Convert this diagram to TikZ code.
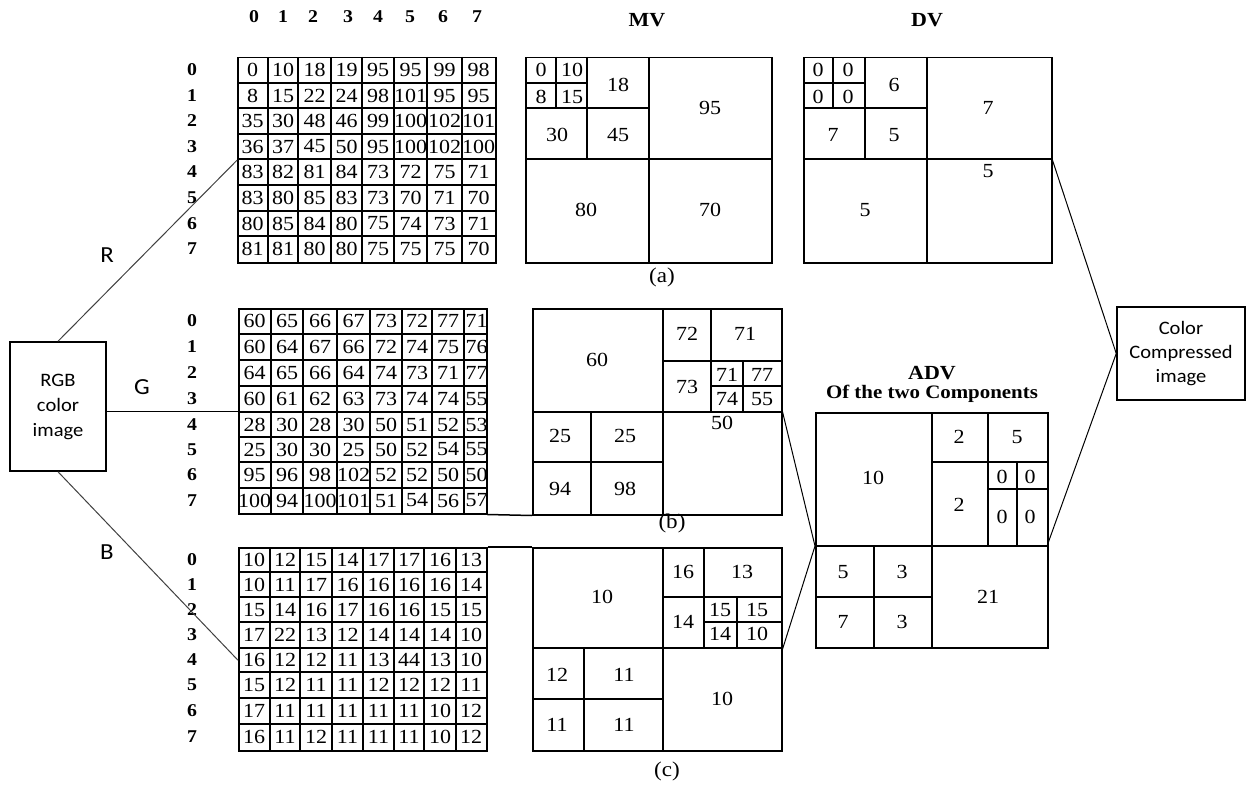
\documentclass[tikz,border=0pt]{standalone}
\usepackage{fontspec}
\setmainfont{Liberation Serif}[FakeStretch=1.1]
\newfontfamily\calfont{Carlito}[FakeStretch=1.08]
\begin{document}
\begin{tikzpicture}[x=1pt,y=-1pt]
\tikzset{
 grid/.style={line width=1.5pt},
 num/.style={font=\fontsize{20}{22}\selectfont, inner sep=0pt},
 lab/.style={font=\bfseries\fontsize{18}{20}\selectfont, inner sep=0pt},
 ttl/.style={font=\bfseries\fontsize{20}{22}\selectfont, inner sep=0pt},
 sub/.style={font=\fontsize{21}{23}\selectfont, inner sep=0pt},
 conn/.style={line width=1pt, draw=black!75},
 box/.style={draw, line width=1.5pt, rectangle, inner sep=0pt, anchor=north west},
 sans/.style={font=\calfont\fontsize{19}{25}\selectfont, align=center, inner sep=0pt},
 chan/.style={font=\calfont\fontsize{23}{25}\selectfont, inner sep=0pt},
}
\useasboundingbox (0,0) rectangle (1247,789);

% ---------------- R matrix ----------------
\node[box, minimum width=258pt, minimum height=205pt] (Rm) at (237,57) {};
\foreach \x in {268,298,331,362,394,427,462} \draw[grid] (\x,57) -- (\x,262);
\foreach \y in {83,108,134,159,185,211,236} \draw[grid] (237,\y) -- (495,\y);
\def\RX{{252.5,283,314.5,346.5,378,410.5,444.5,478.5}}
\def\RY{{70,95.5,121,146.5,172,198,223.5,249}}
\foreach \vals [count=\r from 0] in {{0,10,18,19,95,95,99,98},{8,15,22,24,98,101,95,95},{35,30,48,46,99,100,102,101},{36,37,45,50,95,100,102,100},{83,82,81,84,73,72,75,71},{83,80,85,83,73,70,71,70},{80,85,84,80,75,74,73,71},{81,81,80,80,75,75,75,70}} {
  \foreach \v [count=\c from 0] in \vals {
    \pgfmathsetmacro\xx{\RX[\c]}\pgfmathsetmacro\yy{\RY[\r]}
    \node[num] (R-\r-\c) at (\xx,\yy) {\v};
  }
}
\foreach \r in {0,...,7} {\pgfmathsetmacro\yy{\RY[\r]}\node[lab] (Rr-\r) at (192,\yy) {\r};}
\foreach \x [count=\c from 0] in {254,283,313,348,378,410,443,477} {\node[lab] (Rc-\c) at (\x,17) {\c};}

% ---------------- G matrix ----------------
\node[box, minimum width=248pt, minimum height=205pt] (Gm) at (238,308) {};
\foreach \x in {271,303,337,370,402,432,464} \draw[grid] (\x,308) -- (\x,513);
\foreach \y in {334,360,386,412,437,462,488} \draw[grid] (238,\y) -- (486,\y);
\def\GX{{254.5,287,320,353.5,386,417,448,476.5}}
\def\GY{{321,347,373,399,424.5,449.5,475,500.5}}
\begin{scope}
\clip (238,308) rectangle (486,513);
\foreach \vals [count=\r from 0] in {{60,65,66,67,73,72,77,71},{60,64,67,66,72,74,75,76},{64,65,66,64,74,73,71,77},{60,61,62,63,73,74,74,55},{28,30,28,30,50,51,52,53},{25,30,30,25,50,52,54,55},{95,96,98,102,52,52,50,50},{100,94,100,101,51,54,56,57}} {
  \foreach \v [count=\c from 0] in \vals {
    \pgfmathsetmacro\xx{\GX[\c]}\pgfmathsetmacro\yy{\GY[\r]}
    \node[num] (G-\r-\c) at (\xx,\yy) {\v};
  }
}
\end{scope}
\foreach \r in {0,...,7} {\pgfmathsetmacro\yy{\GY[\r]}\node[lab] (Gr-\r) at (192,\yy) {\r};}

% ---------------- B matrix ----------------
\node[box, minimum width=248pt, minimum height=203pt] (Bm) at (238,547) {};
\foreach \x in {270,300,332,363,394,424,456} \draw[grid] (\x,547) -- (\x,750);
\foreach \y in {572,597,622,648,672,698,724} \draw[grid] (238,\y) -- (486,\y);
\def\BX{{254,285,316,347.5,378.5,409,440,471}}
\def\BY{{559.5,584.5,609.5,635,660,685,711,737}}
\foreach \vals [count=\r from 0] in {{10,12,15,14,17,17,16,13},{10,11,17,16,16,16,16,14},{15,14,16,17,16,16,15,15},{17,22,13,12,14,14,14,10},{16,12,12,11,13,44,13,10},{15,12,11,11,12,12,12,11},{17,11,11,11,11,11,10,12},{16,11,12,11,11,11,10,12}} {
  \foreach \v [count=\c from 0] in \vals {
    \pgfmathsetmacro\xx{\BX[\c]}\pgfmathsetmacro\yy{\BY[\r]}
    \node[num] (B-\r-\c) at (\xx,\yy) {\v};
  }
}
\foreach \r in {0,...,7} {\pgfmathsetmacro\yy{\BY[\r]}\node[lab] (Br-\r) at (192,\yy) {\r};}

% ---------------- MV ----------------
\node[box, minimum width=246pt, minimum height=205pt] (mv) at (525,57) {};
\draw[grid] (649,57) -- (649,262);
\draw[grid] (525,159) -- (771,159);
\draw[grid] (587,57) -- (587,159);
\draw[grid] (525,108) -- (649,108);
\draw[grid] (556,57) -- (556,108);
\draw[grid] (525,83) -- (587,83);
\foreach \x/\y/\t [count=\i] in {541/70/0,572/70/10,541/97/8,572/97/15,618/85/18,557/135/30,618/135/45,710/108/95,586/210/80,710/210/70}
  \node[num] (mv\i) at (\x,\y) {\t};
\node[ttl] (mvt) at (647,20) {MV};
\node[sub] (capa) at (662,277) {(a)};

% ---------------- DV ----------------
\node[box, minimum width=248pt, minimum height=205pt] (dv) at (803,57) {};
\draw[grid] (927,57) -- (927,262);
\draw[grid] (803,159) -- (1051,159);
\draw[grid] (865,57) -- (865,159);
\draw[grid] (803,108) -- (927,108);
\draw[grid] (833,57) -- (833,108);
\draw[grid] (803,83) -- (865,83);
\foreach \x/\y/\t [count=\i] in {818/70/0,848/70/0,818/97/0,848/97/0,894/85/6,833/135/7,894/135/5,988/108/7,865/210/5,988/171/5}
  \node[num] (dv\i) at (\x,\y) {\t};
\node[ttl] (dvt) at (927,20) {DV};

% ---------------- G quadtree ----------------
\node[box, minimum width=249pt, minimum height=206pt] (Gq) at (532,308) {};
\draw[grid] (663,308) -- (663,514);
\draw[grid] (532,412) -- (781,412);
\draw[grid] (711,308) -- (711,412);
\draw[grid] (663,361) -- (781,361);
\draw[grid] (743,361) -- (743,412);
\draw[grid] (711,386) -- (781,386);
\draw[grid] (591,412) -- (591,514);
\draw[grid] (532,462) -- (663,462);
\foreach \x/\y/\t [count=\i] in {597/360/60,687/334/72,745/334/71,687/387/73,727/375/71,762/375/77,727/399/74,762/399/55,560/436/25,625/436/25,560/489/94,625/489/98,722/423/50}
  \node[num] (gq\i) at (\x,\y) {\t};
\node[sub] (capb) at (672,523) {(b)};

% ---------------- B quadtree ----------------
\node[box, minimum width=249pt, minimum height=203pt] (Cq) at (532,547) {};
\draw[grid] (663,547) -- (663,750);
\draw[grid] (532,648) -- (781,648);
\draw[grid] (704,547) -- (704,648);
\draw[grid] (663,597) -- (781,597);
\draw[grid] (737,597) -- (737,648);
\draw[grid] (704,622) -- (781,622);
\draw[grid] (584,648) -- (584,750);
\draw[grid] (532,699) -- (663,699);
\foreach \x/\y/\t [count=\i] in {602/597/10,683/572/16,742/572/13,683/622/14,720/610/15,757/610/15,720/634/14,757/634/10,557/675/12,624/675/11,557/725/11,624/725/11,722/699/10}
  \node[num] (cq\i) at (\x,\y) {\t};
\node[sub] (capc) at (667,771) {(c)};

% ---------------- ADV ----------------
\node[box, minimum width=232pt, minimum height=235pt] (adv) at (815,412) {};
\draw[grid] (932,412) -- (932,647);
\draw[grid] (815,546) -- (1047,546);
\draw[grid] (988,412) -- (988,546);
\draw[grid] (932,462) -- (1047,462);
\draw[grid] (1017,462) -- (1017,546);
\draw[grid] (988,489) -- (1047,489);
\draw[grid] (874,546) -- (874,647);
\draw[grid] (815,597) -- (932,597);
\foreach \x/\y/\t [count=\i] in {873/478/10,959/437/2,1017/437/5,959/505/2,1002/477/0,1030/477/0,1002/517/0,1030/517/0,843/572/5,902/572/3,843/622/7,902/622/3,988/597/21}
  \node[num] (ad\i) at (\x,\y) {\t};
\node[ttl] (advt) at (932,373) {ADV};
\node[ttl, font=\bfseries\fontsize{19}{21}\selectfont] (advs) at (932,394) {Of the two Components};
\coordinate (advL) at (815,546);
\coordinate (advR) at (1047,546);

% ---------------- side boxes ----------------
\node[draw, line width=1.5pt, minimum width=96pt, minimum height=129pt, sans] (rgb) at (58,406.5) {RGB\\color\\image};
\node[draw, line width=1.5pt, minimum width=128pt, minimum height=93pt, sans, font=\calfont\fontsize{19}{24}\selectfont] (out) at (1181,353.5) {Color\\Compressed\\image};

% ---------------- connectors ----------------
\draw[conn] (rgb.north) -- (Rm.west);
\draw[conn, draw=black, line width=1.3pt] (rgb.east |- Gm.west) -- (Gm.west);
\draw[conn] (rgb.south) -- ([yshift=-11pt]Bm.west);
\node[chan] (lR) at (107,255) {R};
\node[chan] (lG) at (142,387) {G};
\node[chan] (lB) at (107,552) {B};
\draw[grid] (Gm.south east) -- (Gq.south west);
\draw[grid] (Bm.north east) -- (Cq.north west);
\draw[conn, draw=black] (Gq.east) -- (advL);
\draw[conn, draw=black] (Cq.east) -- (advL);
\draw[conn, draw=black] (dv.east) -- (out.west);
\draw[conn, draw=black] (advR) -- (out.west);
\end{tikzpicture}
\end{document}
